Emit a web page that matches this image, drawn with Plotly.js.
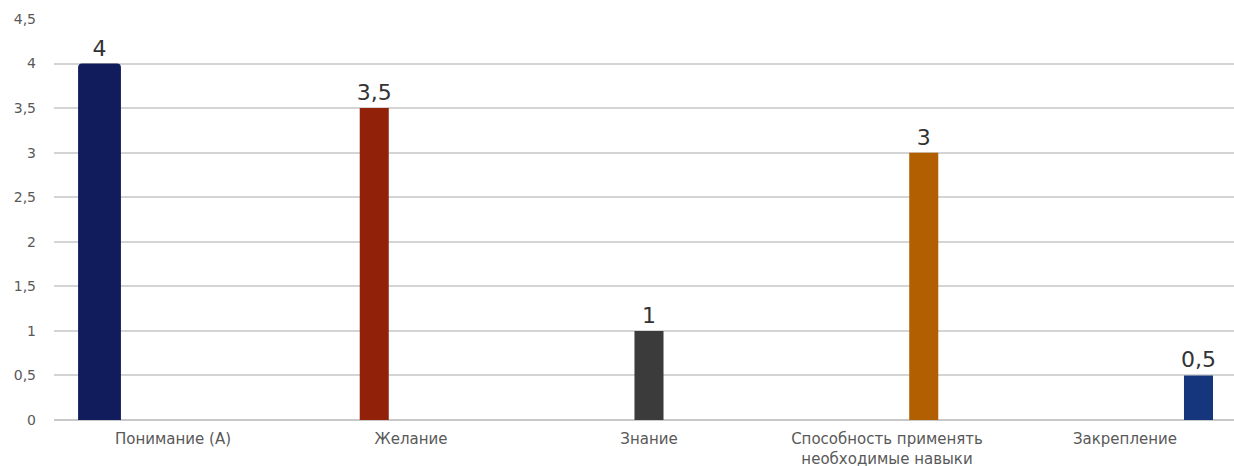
<!DOCTYPE html>
<html>
<head>
<meta charset="utf-8">
<script src="https://cdn.plot.ly/plotly-3.0.1.min.js"></script>
<style>html,body{margin:0;padding:0;background:#fff;}#chart{width:1234px;height:466px;}</style>
</head>
<body>
<div id="chart"></div>
<script>
const categories = ["Понимание (А)", "Желание", "Знание", "Способность применять<br>необходимые навыки", "Закрепление"];
const values = [4, 3.5, 1, 3, 0.5];
const colors = ["#101c5c", "#922109", "#3b3b3b", "#b15f00", "#15367c"];
const yTicks = [0, 0.5, 1, 1.5, 2, 2.5, 3, 3.5, 4, 4.5];

const traces = categories.map((c, i) => {
  const t = {
    type: "bar",
    x: categories,
    y: categories.map((_, j) => j === i ? values[i] : null),
    text: categories.map((_, j) => j === i ? String(values[i]).replace(".", ",") : ""),
    textposition: "outside",
    constraintext: "none",
    cliponaxis: false,
    textfont: {family: "DejaVu Sans, sans-serif", size: 22, color: "#333333"},
    marker: {color: colors[i], line: {width: 10, color: "rgba(0,0,0,0)"}},
    hoverinfo: "none",
    showlegend: false
  };
  if (i === 0) { t.width = 0.18; t.marker.cornerradius = 4; }
  return t;
});

const layout = {
  width: 1234, height: 466,
  margin: {l: 54, r: 0, t: 19, b: 46},
  paper_bgcolor: "#ffffff", plot_bgcolor: "#ffffff",
  separators: ", ",
  barmode: "group",
  bargap: 0.228,
  bargroupgap: 0.21,
  showlegend: false,
  xaxis: {
    type: "category",
    range: [-0.5, 4.458],
    showgrid: false, zeroline: false, showline: false,
    ticks: "", fixedrange: true,
    tickfont: {family: "DejaVu Sans, sans-serif", size: 15, color: "#595959"},
    ticklabelstandoff: 8
  },
  yaxis: {
    range: [0, 4.5],
    tickvals: yTicks,
    ticktext: yTicks.map(v => String(v).replace(".", ",")),
    showgrid: true, gridcolor: "#d4d4d4", gridwidth: 2,
    zeroline: true, zerolinecolor: "#c8c8c8", zerolinewidth: 2,
    showline: false, ticks: "",
    tickfont: {family: "DejaVu Sans, sans-serif", size: 14, color: "#595959"},
    ticklabelstandoff: 17
  },
  font: {family: "DejaVu Sans, sans-serif"}
};

Plotly.newPlot("chart", traces, layout, {staticPlot: true, displayModeBar: false});
</script>
</body>
</html>
